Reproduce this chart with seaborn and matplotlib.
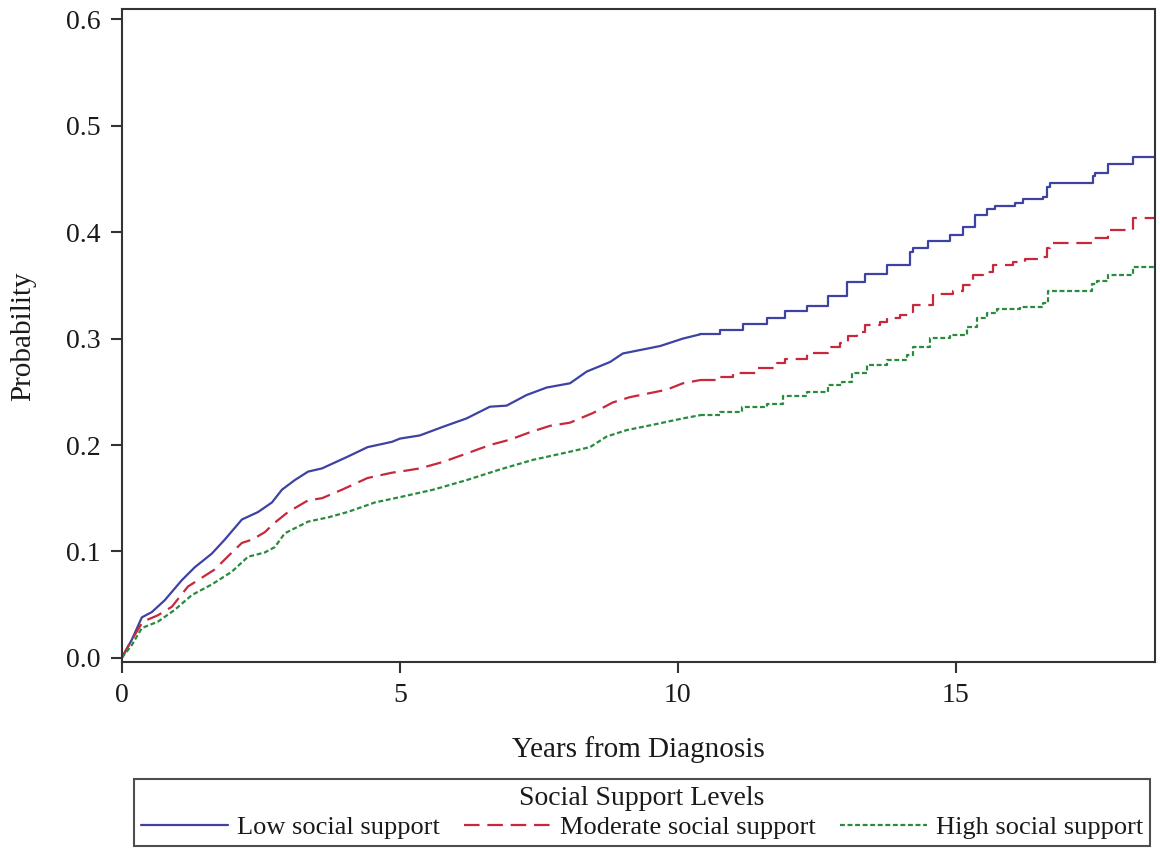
import matplotlib
matplotlib.use("Agg")
import matplotlib.pyplot as plt
import seaborn as sns
import pandas as pd

# ---- data ----
low_t = [0, 0.18, 0.36, 0.54, 0.77, 1.08, 1.31, 1.62, 1.85, 2.16, 2.45, 2.70, 2.88, 3.11, 3.35, 3.6,
         4.06, 4.42, 4.86, 5.0, 5.36, 5.77, 6.2, 6.62, 6.92, 7.28, 7.64, 8.06, 8.36, 8.78, 9.01, 9.68,
         10.09, 10.40, 10.76, 11.17, 11.6, 11.92, 12.32, 12.70, 13.04, 13.36, 13.76, 14.17, 14.23,
         14.50, 14.89, 15.13, 15.34, 15.56, 15.70, 16.06, 16.2, 16.56, 16.63, 16.69, 17.41, 17.47,
         17.5, 17.73, 18.18, 18.6]
low_p = [0, 0.017, 0.038, 0.043, 0.054, 0.073, 0.085, 0.098, 0.111, 0.130, 0.137, 0.146, 0.158, 0.167,
         0.175, 0.178, 0.189, 0.198, 0.203, 0.206, 0.209, 0.217, 0.225, 0.236, 0.237, 0.247, 0.254,
         0.258, 0.269, 0.278, 0.286, 0.293, 0.300, 0.304, 0.308, 0.314, 0.319, 0.326, 0.331, 0.340,
         0.353, 0.361, 0.369, 0.381, 0.385, 0.392, 0.397, 0.405, 0.416, 0.422, 0.425, 0.427, 0.431,
         0.433, 0.442, 0.446, 0.446, 0.453, 0.456, 0.464, 0.471, 0.471]

mod_t = [0, 0.18, 0.32, 0.38, 0.65, 0.90, 1.19, 1.37, 1.67, 1.98, 2.16, 2.34, 2.57, 2.75, 2.99, 3.35,
         3.6, 3.96, 4.42, 4.86, 5.0, 5.36, 5.77, 6.2, 6.62, 6.98, 7.34, 7.70, 8.06, 8.47, 8.83, 9.14,
         9.80, 10.09, 10.40, 10.70, 10.99, 11.42, 11.78, 11.92, 12.32, 12.70, 12.91, 13.06, 13.22,
         13.36, 13.63, 13.76, 13.99, 14.17, 14.23, 14.59, 14.95, 15.13, 15.31, 15.49, 15.67, 16.03,
         16.24, 16.56, 16.63, 16.69, 17.45, 17.73, 18.18, 18.6]
mod_p = [0, 0.017, 0.029, 0.034, 0.040, 0.048, 0.067, 0.073, 0.083, 0.099, 0.108, 0.111, 0.118, 0.127,
         0.137, 0.148, 0.150, 0.158, 0.169, 0.174, 0.175, 0.178, 0.184, 0.192, 0.200, 0.205, 0.212,
         0.218, 0.221, 0.230, 0.240, 0.245, 0.252, 0.258, 0.261, 0.264, 0.268, 0.272, 0.277, 0.281,
         0.286, 0.292, 0.296, 0.302, 0.306, 0.313, 0.316, 0.319, 0.322, 0.325, 0.332, 0.342, 0.345,
         0.350, 0.360, 0.363, 0.369, 0.372, 0.375, 0.377, 0.385, 0.390, 0.395, 0.402, 0.413, 0.413]

high_t = [0, 0.18, 0.36, 0.65, 0.95, 1.26, 1.62, 1.98, 2.27, 2.57, 2.75, 2.93, 3.35, 3.71, 4.06, 4.55,
          5.0, 5.6, 6.2, 6.8, 7.39, 8.0, 8.42, 8.72, 9.08, 9.55, 10.09, 10.40, 10.76, 11.15, 11.6,
          11.89, 12.32, 12.70, 12.95, 13.13, 13.40, 13.76, 14.12, 14.23, 14.53, 14.89, 15.2, 15.38,
          15.56, 15.74, 16.15, 16.56, 16.65, 17.45, 17.54, 17.73, 18.18, 18.6]
high_p = [0, 0.012, 0.028, 0.034, 0.045, 0.059, 0.069, 0.081, 0.095, 0.099, 0.104, 0.117, 0.128,
          0.132, 0.137, 0.146, 0.151, 0.158, 0.167, 0.177, 0.186, 0.193, 0.198, 0.208, 0.214, 0.219,
          0.225, 0.228, 0.231, 0.236, 0.239, 0.246, 0.250, 0.256, 0.259, 0.268, 0.275, 0.280, 0.285,
          0.292, 0.301, 0.303, 0.311, 0.319, 0.324, 0.328, 0.330, 0.333, 0.345, 0.351, 0.354, 0.360,
          0.367, 0.367]

labels = ["Low social support", "Moderate social support", "High social support"]
x_ticks = [0, 5, 10, 15]
y_ticks = [0.0, 0.1, 0.2, 0.3, 0.4, 0.5, 0.6]
STEP_FROM = 10.4  # beyond this time the staircase is coarse enough to show as steps

sns.set_theme(style="ticks")
plt.rcParams["font.family"] = ["Liberation Serif", "DejaVu Serif"]
TXT = "#1a1a1a"

fig = plt.figure(figsize=(11.6, 8.51), dpi=100)
ax = fig.add_axes([0.105, 0.222, 0.8907, 0.767])

series = [(low_t, low_p, "#3d42a3", "-"),
          (mod_t, mod_p, "#c8283c", (0, (7, 3.5))),
          (high_t, high_p, "#2a8a3e", (0, (2.2, 1.2)))]
handles = []
for (t, p, c, ls), lab in zip(series, labels):
    df = pd.DataFrame({"t": t, "p": p})
    early = df[df.t <= STEP_FROM]
    late = df[df.t >= STEP_FROM]
    sns.lineplot(data=early, x="t", y="p", ax=ax, color=c, linestyle=ls, lw=1.6,
                 legend=False, sort=False)
    sns.lineplot(data=late, x="t", y="p", ax=ax, color=c, linestyle=ls, lw=1.6,
                 drawstyle="steps-post", legend=False, sort=False)
    handles.append(ax.lines[-1])

ax.set_xlim(0, 18.58)
ax.set_ylim(-0.004, 0.6094)
ax.set_xticks(x_ticks)
ax.set_xticklabels([str(v) for v in x_ticks])
ax.set_yticks(y_ticks)
ax.set_yticklabels([f"{v:.1f}" for v in y_ticks])
ax.tick_params(direction="out", length=8, width=1.5, labelsize=20, color="#333333",
               labelcolor=TXT, pad=7)
for s in ax.spines.values():
    s.set_linewidth(1.5)
    s.set_color("#333333")
ax.set_xlabel("Years from Diagnosis", fontsize=21, labelpad=20, color=TXT)
ax.set_ylabel("Probability", fontsize=21, labelpad=22, color=TXT)

leg = fig.legend(handles, labels, loc="lower center", ncol=3,
                 bbox_to_anchor=((131 + 1153) / 2 / 1160, 5 / 851),
                 title="Social Support Levels", fontsize=19, title_fontsize=20,
                 frameon=True, fancybox=False, edgecolor="#222222", handlelength=3.3,
                 borderaxespad=0, borderpad=0.25, labelspacing=0.2, columnspacing=0.9,
                 handletextpad=0.35)
leg.get_frame().set_linewidth(1.5)
for txt in leg.get_texts():
    txt.set_color(TXT)
leg.get_title().set_color(TXT)

fig.savefig("out.png", dpi=100, facecolor="white")
